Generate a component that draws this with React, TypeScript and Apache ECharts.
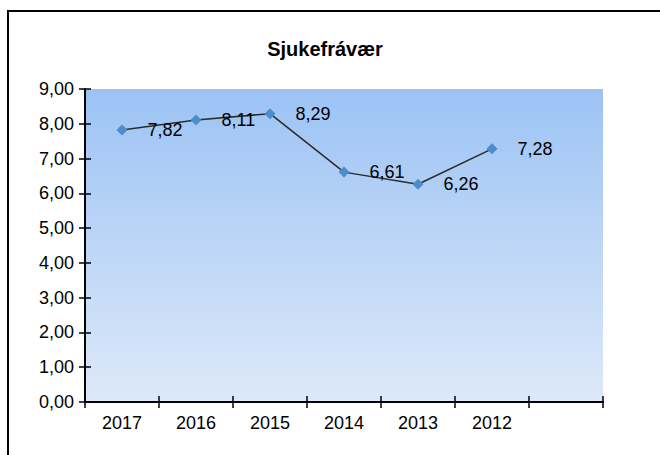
import React, { useEffect, useRef } from "react";
import * as echarts from "echarts";

const title = "Sjukefrávær";
const categories = ["2017", "2016", "2015", "2014", "2013", "2012", ""];
const values = [7.82, 8.11, 8.29, 6.61, 6.26, 7.28];
const yMin = 0;
const yMax = 9;
const yStep = 1;

const fmt = (v: number) => v.toFixed(2).replace(".", ",");
const FONT = "'Liberation Sans', Arial, sans-serif";

export default function App() {
  const ref = useRef<HTMLDivElement>(null);
  useEffect(() => {
    if (!ref.current) return;
    const chart = echarts.init(ref.current, null, { renderer: "svg" });
    const tickCommon = { show: true, length: 6, lineStyle: { color: "#000", width: 1.5 } };
    chart.setOption({
      animation: false,
      backgroundColor: "#fff",
      title: {
        text: title,
        left: 320,
        textAlign: "center",
        top: 34,
        textStyle: { fontFamily: FONT, fontSize: 20, fontWeight: "bold", color: "#000" },
      },
      graphic: [
        {
          type: "rect",
          shape: { x: 8, y: 11, width: 700, height: 500 },
          style: { fill: "none", stroke: "#000", lineWidth: 2 },
          silent: true,
        },
      ],
      grid: {
        left: 85,
        top: 89,
        right: 57,
        bottom: 53,
        show: true,
        borderWidth: 0,
        backgroundColor: new echarts.graphic.LinearGradient(0, 0, 0, 1, [
          { offset: 0, color: "#9cc3f4" },
          { offset: 1, color: "#dde9f9" },
        ]),
      },
      xAxis: [
        {
          type: "category",
          data: categories,
          boundaryGap: true,
          axisLine: { show: true, lineStyle: { color: "#000", width: 2 } },
          axisTick: { ...tickCommon, inside: false, interval: 0 },
          axisLabel: { color: "#000", fontFamily: FONT, fontSize: 18, margin: 12, interval: 0 },
          splitLine: { show: false },
        },
        {
          type: "category",
          data: categories,
          position: "bottom",
          boundaryGap: true,
          axisLine: { show: false },
          axisTick: { ...tickCommon, inside: true, interval: 0 },
          axisLabel: { show: false },
          splitLine: { show: false },
        },
      ],
      yAxis: [
        {
          type: "value",
          min: yMin,
          max: yMax,
          interval: yStep,
          axisLine: { show: true, lineStyle: { color: "#000", width: 2 } },
          axisTick: { ...tickCommon, inside: false },
          axisLabel: { color: "#000", fontFamily: FONT, fontSize: 18, margin: 11, formatter: fmt },
          splitLine: { show: false },
        },
        {
          type: "value",
          position: "left",
          min: yMin,
          max: yMax,
          interval: yStep,
          axisLine: { show: false },
          axisTick: { ...tickCommon, inside: true },
          axisLabel: { show: false },
          splitLine: { show: false },
        },
      ],
      series: [
        {
          type: "line",
          data: values,
          xAxisIndex: 0,
          yAxisIndex: 0,
          symbol: "diamond",
          symbolSize: 11,
          itemStyle: { color: "#4a8fca" },
          lineStyle: { color: "#2b2b2b", width: 1.5 },
          label: {
            show: true,
            position: "right",
            distance: 20,
            color: "#000",
            fontFamily: FONT,
            fontSize: 18,
            formatter: (p: any) => fmt(p.value),
          },
          z: 3,
        },
      ],
    });
    return () => chart.dispose();
  }, []);
  return (
    <div
      ref={ref}
      style={{ position: "absolute", left: 0, top: 0, width: 660, height: 455 }}
    />
  );
}
